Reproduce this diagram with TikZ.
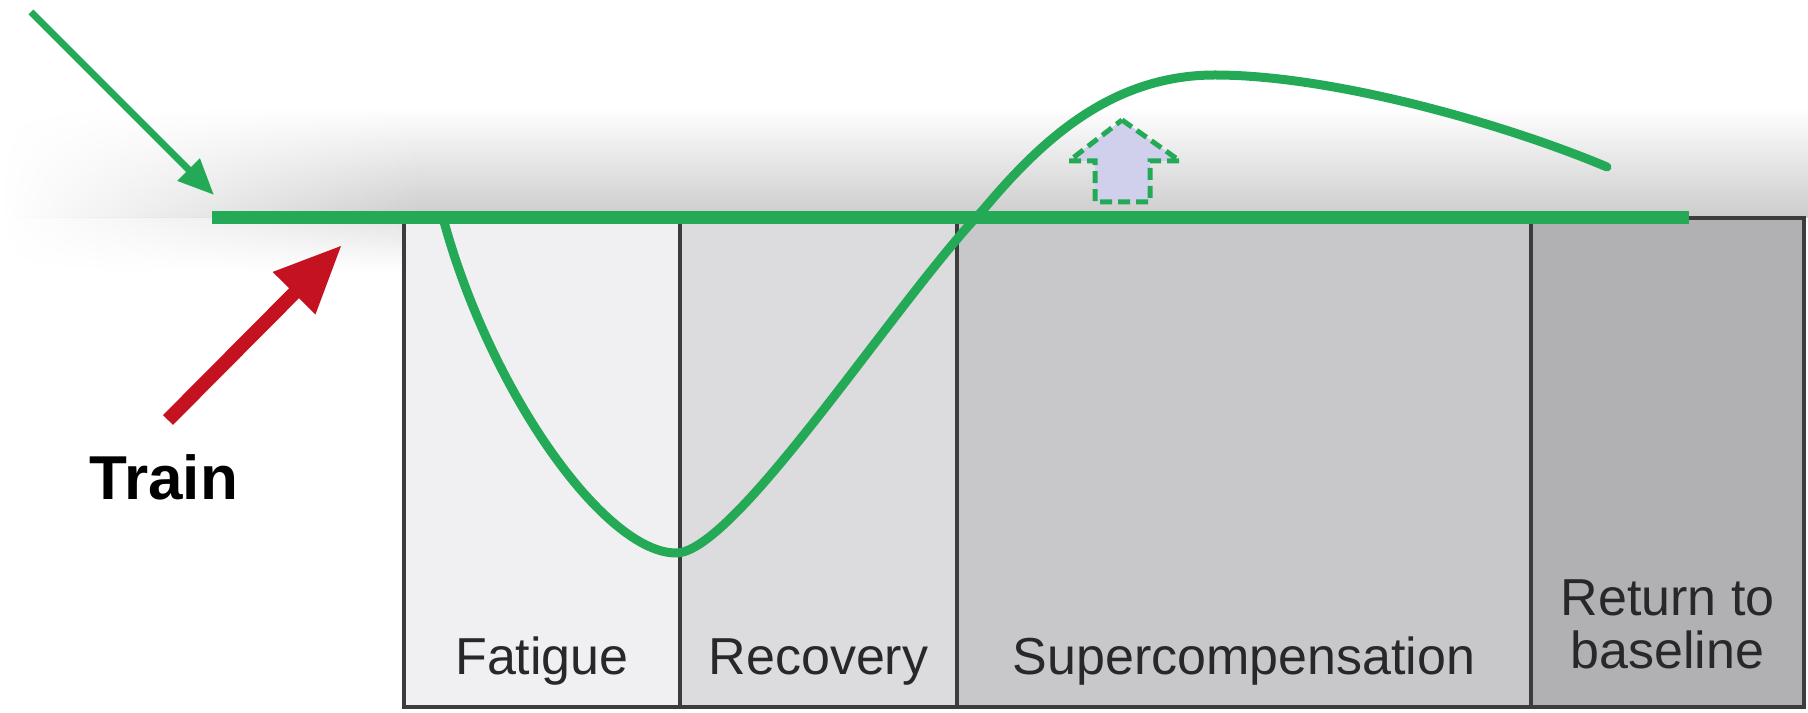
\documentclass[tikz,border=0pt]{standalone}
\usepackage{fontspec}
\setmainfont{Liberation Sans}
\usetikzlibrary{positioning,arrows.meta,fadings}

\definecolor{curvegreen}{RGB}{36,170,86}
\definecolor{trainred}{RGB}{196,18,32}
\definecolor{gainfill}{RGB}{208,208,236}
\definecolor{boxedge}{RGB}{60,60,62}
\definecolor{labelgray}{RGB}{40,40,42}
\tikzfading[name=fadeleft, left color=transparent!100, right color=transparent!0]

\begin{document}
\begin{tikzpicture}[x=0.5pt, y=0.5pt,
    phase/.style={draw=boxedge, line width=2pt, outer sep=0pt, inner sep=0pt,
      minimum height=244.5pt, anchor=south west},
    phasetext/.style={font=\fontsize{26}{26.5}\selectfont, text=labelgray, anchor=base, align=center},
    curve/.style={curvegreen, line width=4.5pt, line cap=round}]

    \useasboundingbox (0,0) rectangle (1808,712);

    % Soft shadow behind the baseline
    \shade[top color=white, bottom color=gray!40, path fading=fadeleft] (0,494) rectangle (420,605);
    \shade[top color=white, bottom color=gray!40] (420,494) rectangle (1808,605);
    \shade[top color=gray!22, bottom color=white, path fading=fadeleft] (0,440) rectangle (404,494);

    % Phase boxes
    \node[phase, fill={rgb,255:red,240;green,240;blue,242}, minimum width=138pt] (fatigue) at (404,5) {};
    \node[phase, fill={rgb,255:red,220;green,220;blue,222}, minimum width=138.5pt, right=0pt of fatigue] (recovery) {};
    \node[phase, fill={rgb,255:red,200;green,200;blue,203}, minimum width=287pt, right=0pt of recovery] (supercomp) {};
    \node[phase, fill={rgb,255:red,177;green,177;blue,180}, minimum width=136.5pt, right=0pt of supercomp] (return) {};

    \node[phasetext] at ([yshift=16.5pt]fatigue.south) {Fatigue};
    \node[phasetext] at ([yshift=16.5pt]recovery.south) {Recovery};
    \node[phasetext] at ([yshift=16.5pt]supercomp.south) {Supercompensation};
    \node[phasetext] at ([yshift=19.5pt]return.south) {Return to\\baseline};

    % Baseline
    \coordinate (basestart) at (212,494);
    \coordinate (baseend) at (1689,494);
    \draw[curvegreen, line width=6.5pt] (basestart) -- (baseend);

    % Fatigue, recovery and supercompensation curve
    \draw[curve] (443,494) .. controls (490,320) and (605,159) .. (676,159)
      .. controls (735,159) and (895,410) .. (983,502)
      .. controls (1040,570) and (1110,637) .. (1215,637)
      .. controls (1330,637) and (1500,590) .. (1607,545);

    % Gain arrow
    \draw[curvegreen, fill=gainfill, line width=2.5pt, dash pattern=on 6pt off 3pt]
      (1122,592) -- (1180,551) -- (1150,551) -- (1150,510) -- (1095,510) -- (1095,551) -- (1069,551) -- cycle;

    % Cue arrow
    \coordinate (cuetail) at (31,700);
    \coordinate (cuetip) at (214,517);
    \draw[-{Triangle[length=18pt,width=15pt]}, curvegreen, line width=3.5pt] (cuetail) -- (cuetip);

    % Train
    \node[font=\fontsize{31}{32}\selectfont\bfseries, anchor=base] (train) at (164,212) {Train};
    \coordinate (traintip) at (342,467);
    \draw[-{Triangle[length=34pt,width=28pt]}, trainred, line width=7pt] ([xshift=2pt,yshift=14pt]train.north) -- (traintip);

\end{tikzpicture}
\end{document}
